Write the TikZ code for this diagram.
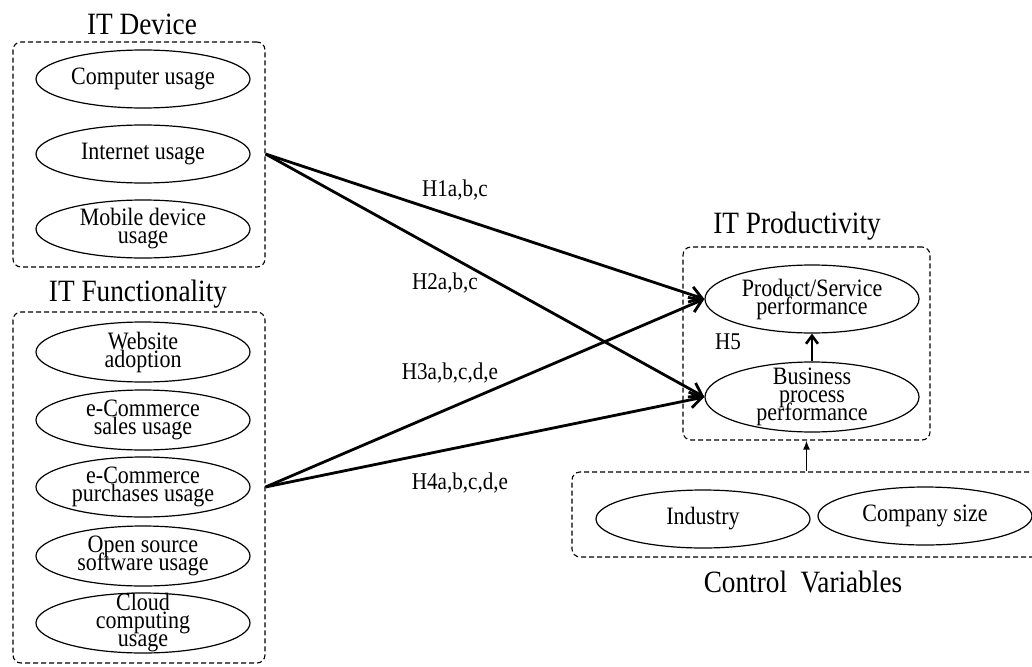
\documentclass[tikz,border=0pt]{standalone}
\usepackage{fontspec}
\setmainfont[FakeStretch=0.88]{Liberation Serif}
\usetikzlibrary{shapes.geometric,arrows.meta}
\newcommand\mytightlines{\lineskiplimit=-40pt\relax\lineskip=0pt\relax}
\begin{document}
\begin{tikzpicture}[x=1pt,y=-1pt,
  grp/.style={draw, dash pattern=on 5pt off 3pt, line width=1.1pt, rounded corners=8pt, inner sep=0pt},
  oval/.style={ellipse, draw, line width=1.2pt, minimum width=214pt, minimum height=58pt, inner sep=0pt},
  otxt/.style={align=center, inner sep=0pt, font={\fontsize{25}{18}\selectfont\mytightlines}},
  ttl/.style={inner sep=0pt, font={\fontsize{31}{36}\selectfont}},
  hyp/.style={inner sep=0pt, font={\fontsize{24}{28}\selectfont}},
  big/.style={line width=2.8pt, -{Straight Barb[length=12pt,width=16pt]}},
]
\useasboundingbox (0,0) rectangle (1032,666);

% group boxes
\node[grp, minimum width=252pt, minimum height=225pt] (devbox) at (139,154.5) {};
\node[grp, minimum width=252pt, minimum height=351pt] (funcbox) at (139,487.5) {};
\node[grp, minimum width=247pt, minimum height=193pt] (prodbox) at (806.5,343.5) {};
\node[grp, minimum width=473pt, minimum height=85pt] (ctrlbox) at (808.5,514.5) {};

% titles
\node[ttl] (devtitle) at (142,24) {IT Device};
\node[ttl] (functitle) at (138,294) {IT Functionality};
\node[ttl] (prodtitle) at (797,226) {IT Productivity};
\node[ttl] (ctrltitle) at (803,582) {Control\ \ Variables};

% IT Device
\node[oval] (comp) at (143,79) {};
\node[otxt] (comp-t) at (comp) {Computer usage};
\node[oval] (inet) at (143,154) {};
\node[otxt] (inet-t) at (inet) {Internet usage};
\node[oval] (mob) at (143,229) {};
\node[otxt] (mob-t) at (mob) {Mobile device\\usage};

% IT Functionality
\node[oval, minimum height=60pt] (web) at (143,352) {};
\node[otxt] (web-t) at (web) {Website\\adoption};
\node[oval, minimum height=60pt] (sales) at (143,420) {};
\node[otxt] (sales-t) at (sales) {e-Commerce\\sales usage};
\node[oval, minimum height=60pt] (purch) at (143,487) {};
\node[otxt] (purch-t) at (purch) {e-Commerce\\purchases usage};
\node[oval, minimum height=60pt] (oss) at (143,556) {};
\node[otxt] (oss-t) at (oss) {Open source\\software usage};
\node[oval, minimum height=60pt] (cloud) at (143,623) {};
\node[otxt] (cloud-t) at (cloud) {Cloud\\computing\\usage};

% IT Productivity
\node[oval, minimum height=68pt] (prod) at (812,299) {};
\node[otxt] (prod-t) at (prod) {Product/Service\\performance};
\node[oval, minimum height=70pt] (bus) at (812,397) {};
\node[otxt] (bus-t) at (bus) {Business\\process\\performance};

% Control variables
\node[oval] (ind) at (703,519) {};
\node[otxt] (ind-t) at (ind) {Industry};
\node[oval] (size) at (925,516) {};
\node[otxt] (size-t) at (size) {Company size};

% hypothesis arrows
\draw[big] (devbox.east |- inet) -- (prod.west);
\draw[big] (devbox.east |- inet) -- (bus.west);
\draw[big] (funcbox.east |- purch) -- (prod.west);
\draw[big] (funcbox.east |- purch) -- (bus.west);
\draw[line width=2.6pt, -{Straight Barb[length=8pt,width=12pt]}] (bus.north) -- (prod.south);
\draw[line width=1.4pt, -{Latex[length=9pt,width=7pt]}] (prodbox.south |- ctrlbox.north) -- (prodbox.south);

% labels
\node[hyp] (h1) at (455,190) {H1a,b,c};
\node[hyp] (h2) at (445,283) {H2a,b,c};
\node[hyp] (h3) at (450,373) {H3a,b,c,d,e};
\node[hyp] (h4) at (460,483) {H4a,b,c,d,e};
\node[hyp] (h5) at (728,342) {H5};
\end{tikzpicture}
\end{document}
